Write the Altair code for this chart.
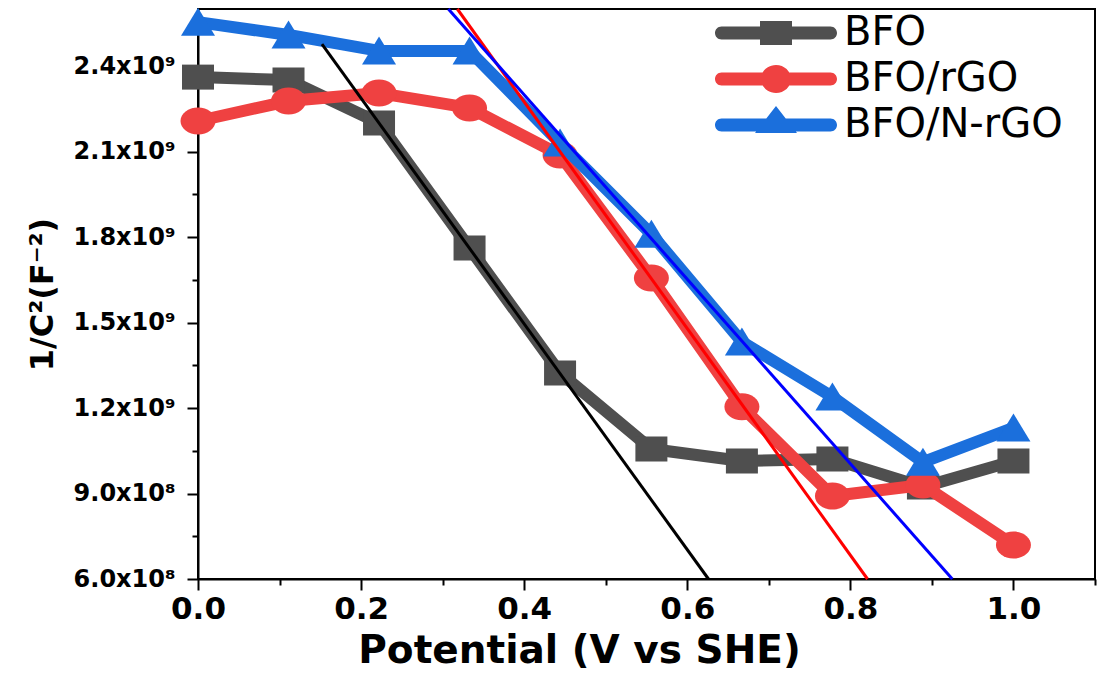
import altair as alt
import pandas as pd

# ---- data ----
potential = [0.0, 0.111, 0.222, 0.333, 0.444, 0.556, 0.667, 0.778, 0.889, 1.0]
series_names = ["BFO", "BFO/rGO", "BFO/N-rGO"]
bfo = [2.361e9, 2.351e9, 2.200e9, 1.761e9, 1.323e9, 1.056e9, 1.014e9, 1.021e9, 9.23e8, 1.014e9]
bfo_rgo = [2.207e9, 2.277e9, 2.305e9, 2.253e9, 2.088e9, 1.656e9, 1.204e9, 8.91e8, 9.30e8, 7.19e8]
bfo_nrgo = [2.554e9, 2.509e9, 2.453e9, 2.453e9, 2.130e9, 1.810e9, 1.432e9, 1.239e9, 1.010e9, 1.130e9]

# linear fits (Mott-Schottky extrapolation): endpoints
fit_names = ["fitBFO", "fitrGO", "fitNrGO"]
fit_x = [[0.152, 0.626], [0.318, 0.821], [0.307, 0.925]]
fit_y = [[2.477e9, 6.0e8], [2.6e9, 6.0e8], [2.6e9, 6.0e8]]

x_ticks = [round(i * 0.1, 1) for i in range(12)]
y_ticks = [6.0e8 + i * 1.5e8 for i in range(14)]

colors = ["#4f4f4f", "#ef4141", "#1b6fdc"]
fit_colors = ["#000000", "#ff0000", "#0000ff"]

# ---- tables ----
rows = []
for name, vals in zip(series_names, [bfo, bfo_rgo, bfo_nrgo]):
    for xv, yv in zip(potential, vals):
        rows.append({"series": name, "x": xv, "y": yv})
df = pd.DataFrame(rows)

frows = []
for name, xs, ys in zip(fit_names, fit_x, fit_y):
    for xv, yv in zip(xs, ys):
        frows.append({"fit": name, "x": xv, "y": yv})
fdf = pd.DataFrame(frows)

# marker paths (unit coords, scaled by sqrt(size)/2)
square = "M-0.8,-0.625H0.8V0.625H-0.8Z"
ellipse = "M-0.875,0A0.875,0.675 0 1,1 0.875,0A0.875,0.675 0 1,1 -0.875,0Z"
triangle = "M0,-0.72L0.85,0.68L-0.85,0.68Z"
marker_paths = [square, ellipse, triangle]

bar = "M-2.725,-0.325H2.725A0.325,0.325 0 0,1 2.725,0.325H-2.725A0.325,0.325 0 0,1 -2.725,-0.325Z"
leg_square = "M-0.8,-0.6H0.8V0.6H-0.8Z"
leg_circle = "M-0.75,0A0.75,0.7 0 1,1 0.75,0A0.75,0.7 0 1,1 -0.75,0Z"
leg_tri = "M0,-0.95L1.05,0.4L-1.05,0.4Z"
leg_paths = [bar + leg_square, bar + leg_circle, bar + leg_tri]

FONT = "DejaVu Sans"

x_axis = alt.Axis(
    title="Potential (V vs SHE)", values=x_ticks,
    labelExpr="round(datum.value*10) % 2 == 0 ? format(datum.value, '.1f') : ''",
    tickSize={"condition": {"test": "round(datum.value*10) % 2 == 0", "value": 11}, "value": 6},
    tickWidth=2, tickColor="black", domainColor="black", domainWidth=2,
    labelFont=FONT, labelFontSize=31, labelFontWeight="bold", labelColor="black",
    labelPadding=4, labelFlush=False, labelOverlap=False, grid=False,
    titleFont=FONT, titleFontSize=39, titleFontWeight="bold", titleColor="black",
    titleX=381, titleY=83, titleBaseline="alphabetic", titleAlign="center",
)
y_axis = alt.Axis(
    title="1/C²(F⁻²)", values=y_ticks,
    labelExpr="round(datum.value/1.5e8) % 2 == 0 ? (datum.value < 1e9 ? format(datum.value/1e8, '.1f') + 'x10⁸' : format(datum.value/1e9, '.1f') + 'x10⁹') : ''",
    tickSize={"condition": {"test": "round(datum.value/1.5e8) % 2 == 0", "value": 11}, "value": 6},
    tickWidth=2, tickColor="black", domainColor="black", domainWidth=2,
    labelFont=FONT, labelFontSize=24, labelFontWeight="bold", labelColor="black",
    labelPadding=12, labelOverlap=False, grid=False,
    titleFont=FONT, titleFontSize=32, titleFontWeight="bold", titleColor="black",
    titlePadding=14,
)

X = alt.X("x:Q", scale=alt.Scale(domain=[0, 1.1], nice=False, zero=False), axis=x_axis)
Y = alt.Y("y:Q", scale=alt.Scale(domain=[6.0e8, 2.6e9], nice=False, zero=False), axis=y_axis)

legend = alt.Legend(
    title=None, orient="none", legendX=558, legendY=4, padding=0,
    symbolSize=1600, labelOffset=48, rowPadding=6, labelLimit=0,
    labelFont=FONT, labelFontSize=40, labelFontWeight="normal", labelColor="black",
    symbolStrokeWidth=0, symbolOpacity=1,
)
color_scale = alt.Scale(domain=series_names, range=colors)
shape_scale = alt.Scale(domain=series_names, range=leg_paths)

layers = []
for i, name in enumerate(series_names):
    sub = df[df["series"] == name]
    base = alt.Chart(sub)
    col = alt.Color("series:N", scale=color_scale)
    line = base.mark_line(strokeWidth=12, strokeCap="round", strokeJoin="round").encode(
        x=X, y=Y, color=col)
    pts = base.mark_point(filled=True, opacity=1, size=1600, shape=marker_paths[i]).encode(
        x=X, y=Y, color=col)
    layers += [line, pts]

# invisible layer that only carries the legend (line + marker symbols)
legend_layer = alt.Chart(df).mark_point(filled=True, size=0, strokeWidth=0).encode(
    x=X, y=Y,
    color=alt.Color("series:N", scale=color_scale, legend=legend),
    shape=alt.Shape("series:N", scale=shape_scale, legend=legend),
)
layers.insert(0, legend_layer)

fits = alt.Chart(fdf).mark_line(strokeWidth=3).encode(
    x=X, y=Y,
    stroke=alt.Stroke("fit:N", scale=alt.Scale(domain=fit_names, range=fit_colors), legend=None),
    detail="fit:N",
)
layers.append(fits)

chart = alt.layer(*layers).properties(
    width=897, height=570,
    autosize=alt.AutoSizeParams(type="none"),
    padding={"left": 198, "top": 9, "right": 4, "bottom": 96},
    background="white",
).configure_view(stroke="black", strokeWidth=2)

chart.save("out.html", embed_options={"renderer": "svg", "actions": False})
